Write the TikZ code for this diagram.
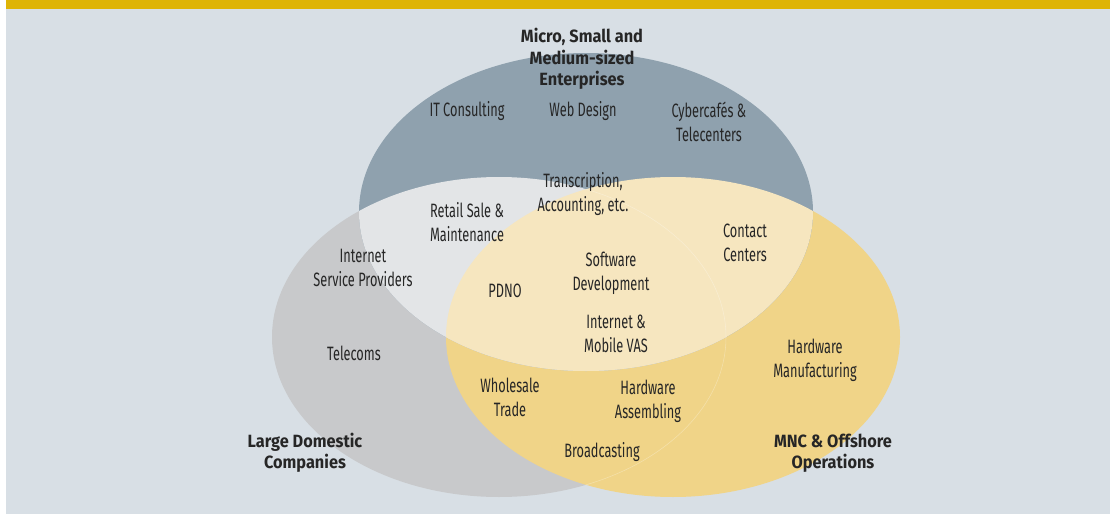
\documentclass[tikz,border=0pt]{standalone}
\usepackage{fontspec}
\newfontfamily\itemfont{Fira Sans}[FakeStretch=0.66]
\newfontfamily\headfont{Fira Sans Bold}[FakeStretch=0.92]
\usetikzlibrary{positioning}

\definecolor{pagebg}{HTML}{D8DFE5}
\definecolor{barcol}{HTML}{DEB406}
\definecolor{msmecol}{HTML}{8FA1AE}
\definecolor{ldccol}{HTML}{C8C9CB}
\definecolor{mnccol}{HTML}{F0D488}
\definecolor{msmeldc}{HTML}{E3E5E7}
\definecolor{msmemnc}{HTML}{F6E6BF}
\definecolor{txt}{HTML}{262626}

% the three circles of the diagram
\def\msme{(586,212) ellipse [x radius=227, y radius=159]}
\def\ldc{(499,337) ellipse [x radius=227, y radius=160]}
\def\mnc{(673,337) ellipse [x radius=227, y radius=160]}

\begin{document}
\begin{tikzpicture}[x=0.75pt, y=-0.75pt,
	item/.style = {align=center, inner sep=0pt, text=txt, font=\itemfont\fontsize{14.5}{18}\selectfont},
	head/.style = {align=center, inner sep=0pt, text=txt, font=\headfont\fontsize{13.3}{16}\selectfont}]
		\useasboundingbox (0,0) rectangle (1110,514);
		\fill[white] (0,0) rectangle (1110,514);
		\fill[pagebg] (6,0) rectangle (1110,514);
		\fill[barcol] (6,0) rectangle (1110,9);
		
		\fill[ldccol] \ldc;
		\fill[mnccol] \mnc;
		\fill[msmecol] \msme;
		\begin{scope}
			\clip \msme;
			\fill[msmeldc] \ldc;
			\fill[msmemnc] \mnc;
		\end{scope}
		\begin{scope}
			\clip \mnc;
			\draw[white, opacity=0.3, line width=0.4pt] \ldc;
		\end{scope}
		
		% circle titles
		\node[head] (msme) at (582,59) {Micro, Small and\\Medium-sized\\Enterprises};
		\node[head] (ldc) at (305,453) {Large Domestic\\Companies};
		\node[head] (mnc) at (833,453) {MNC \& Offshore\\Operations};
		
		% activities
		\node[item] (itc) at (467,111) {IT Consulting};
		\node[item] (web) at (583,111) {Web Design};
		\node[item] (cyber) at (709,122) {Cybercafés \&\\Telecenters};
		\node[item] (trans) at (583,194) {Transcription,\\Accounting, etc.};
		\node[item] (retail) at (467,222) {Retail Sale \&\\Maintenance};
		\node[item] (contact) at (745,243) {Contact\\Centers};
		\node[item] (isp) at (363,268) {Internet\\Service Providers};
		\node[item] (pdno) at (505,291) {PDNO};
		\node[item] (soft) at (611,273) {Software\\Development};
		\node[item] (vas) at (616,334) {Internet \&\\Mobile VAS};
		\node[item] (tele) at (354,353) {Telecoms};
		\node[item] (hwman) at (815,360) {Hardware\\Manufacturing};
		\node[item] (whole) at (510,397) {Wholesale\\Trade};
		\node[item] (hwasm) at (648,401) {Hardware\\Assembling};
		\node[item] (broad) at (602,452) {Broadcasting};
		
\end{tikzpicture}
\end{document}
